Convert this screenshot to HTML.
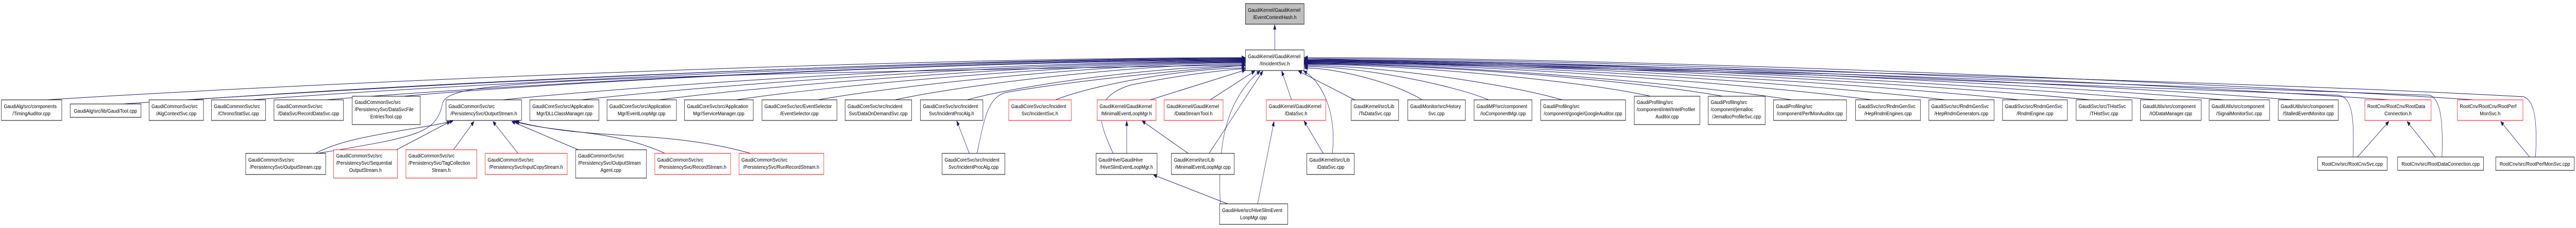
<!DOCTYPE html>
<html><head><meta charset="utf-8"><style>
html,body{margin:0;padding:0;background:#fff;width:100%;height:100%;overflow:hidden}
svg{display:block;width:100vw;height:100vh}
text{font-family:"Liberation Sans",Arial,sans-serif;font-size:10.5px;fill:#000}
.n{fill:#fff;stroke:#000;stroke-width:1}
.r{fill:#fff;stroke:#ff0000;stroke-width:1}
.e{fill:none;stroke:#191970;stroke-width:1}
</style></head><body>
<svg viewBox="0 0 7380 443" preserveAspectRatio="none" xmlns="http://www.w3.org/2000/svg">
<defs><marker id="a" viewBox="0 0 10 10" refX="10" refY="5" markerWidth="10" markerHeight="9" orient="auto" markerUnits="userSpaceOnUse"><path d="M0,1 L10,5 L0,9 z" fill="#191970" stroke="#191970"/></marker></defs>

<g class="edges">
<path class="e" marker-end="url(#a)" d="M3652,97 L3652,48"/>
<path class="e" marker-end="url(#a)" d="M134,194 C821,164 2538,112 3567,112"/>
<path class="e" marker-end="url(#a)" d="M353,202 C996,172 2604,113 3567,113"/>
<path class="e" marker-end="url(#a)" d="M544,194 C1149,164 2661,114 3567,114"/>
<path class="e" marker-end="url(#a)" d="M722,194 C1291,164 2714,115 3567,115"/>
<path class="e" marker-end="url(#a)" d="M934,194 C1461,164 2778,116 3567,116"/>
<path class="e" marker-end="url(#a)" d="M1155,187 C1638,157 2844,117 3567,117"/>
<path class="e" marker-end="url(#a)" d="M1440,194 C1866,164 2930,118 3567,118"/>
<path class="e" marker-end="url(#a)" d="M1666,194 C2046,164 2997,119 3567,119"/>
<path class="e" marker-end="url(#a)" d="M1888,194 C2224,164 3064,120 3567,120"/>
<path class="e" marker-end="url(#a)" d="M2109,194 C2401,164 3130,121 3567,121"/>
<path class="e" marker-end="url(#a)" d="M2344,194 C2589,164 3201,122 3567,122"/>
<path class="e" marker-end="url(#a)" d="M2564,194 C2765,164 3267,124 3567,124"/>
<path class="e" marker-end="url(#a)" d="M2771,194 C2930,164 3329,128 3567,128"/>
<path class="e" marker-end="url(#a)" d="M3024,194 C3133,164 3405,132 3567,132"/>
<path class="e" marker-end="url(#a)" d="M3295,194 L3568,136"/>
<path class="e" marker-end="url(#a)" d="M3467,194 L3595,138"/>
<path class="e" marker-end="url(#a)" d="M3700,194 L3672,138"/>
<path class="e" marker-end="url(#a)" d="M3881,194 L3720,138"/>
<path class="e" marker-end="url(#a)" d="M4074,194 C4006,164 3837,132 3737,132"/>
<path class="e" marker-end="url(#a)" d="M4265,194 C4159,164 3895,129 3737,129"/>
<path class="e" marker-end="url(#a)" d="M4475,194 C4327,164 3958,127 3737,127"/>
<path class="e" marker-end="url(#a)" d="M4729,187 C4530,157 4034,125 3737,125"/>
<path class="e" marker-end="url(#a)" d="M4935,187 C4695,157 4096,124 3737,124"/>
<path class="e" marker-end="url(#a)" d="M5133,194 C4854,164 4155,123 3737,123"/>
<path class="e" marker-end="url(#a)" d="M5363,194 C5038,164 4224,122 3737,122"/>
<path class="e" marker-end="url(#a)" d="M5573,194 C5206,164 4287,121 3737,121"/>
<path class="e" marker-end="url(#a)" d="M5784,194 C5374,164 4350,120 3737,120"/>
<path class="e" marker-end="url(#a)" d="M5988,194 C5538,164 4412,119 3737,119"/>
<path class="e" marker-end="url(#a)" d="M6176,194 C5688,164 4468,118 3737,118"/>
<path class="e" marker-end="url(#a)" d="M6372,194 C5845,164 4527,117 3737,117"/>
<path class="e" marker-end="url(#a)" d="M6570,194 C6003,164 4586,116 3737,116"/>
<path class="e" marker-end="url(#a)" d="M6844,194 C6222,164 4668,114 3737,114"/>
<path class="e" marker-end="url(#a)" d="M7087,194 C6417,164 4741,112 3737,112"/>

<path class="e" marker-end="url(#a)" d="M904,298 C1000,262 1200,252 1298,235"/>
<path class="e" marker-end="url(#a)" d="M910,298 C1200,265 1250,260 1268,200 C1290,160 1500,150 3567,126"/>
<path class="e" marker-end="url(#a)" d="M1136,291 L1290,236"/>
<path class="e" marker-end="url(#a)" d="M1300,290 L1358,236"/>
<path class="e" marker-end="url(#a)" d="M1484,298 L1412,236"/>
<path class="e" marker-end="url(#a)" d="M1657,291 L1466,236"/>
<path class="e" marker-end="url(#a)" d="M1905,298 C1750,250 1600,260 1474,236"/>
<path class="e" marker-end="url(#a)" d="M2150,298 C1900,250 1700,275 1478,236"/>
<path class="e" marker-end="url(#a)" d="M2777,298 L2741,235"/>
<path class="e" marker-end="url(#a)" d="M2799,298 C2820,230 2830,190 2880,180 C3000,165 3300,140 3567,127"/>
<path class="e" marker-end="url(#a)" d="M3228,298 L3228,235"/>
<path class="e" marker-end="url(#a)" d="M3189,298 C3150,240 3120,190 3240,165 C3350,150 3450,140 3567,133"/>
<path class="e" marker-end="url(#a)" d="M3404,298 L3272,235"/>
<path class="e" marker-end="url(#a)" d="M3464,298 L3618,138"/>
<path class="e" marker-end="url(#a)" d="M3791,298 L3736,235"/>
<path class="e" marker-end="url(#a)" d="M3817,298 C3830,220 3790,160 3735,138"/>
<path class="e" marker-end="url(#a)" d="M3517,396 L3305,340"/>
<path class="e" marker-end="url(#a)" d="M3496,396 C3490,300 3500,200 3610,138"/>
<path class="e" marker-end="url(#a)" d="M3603,396 L3650,236"/>
<path class="e" marker-end="url(#a)" d="M6754,305 L6844,236"/>
<path class="e" marker-end="url(#a)" d="M6741,305 C6745,230 6740,190 6700,185 C6000,160 4500,130 3737,118"/>
<path class="e" marker-end="url(#a)" d="M6977,305 L6896,236"/>
<path class="e" marker-end="url(#a)" d="M6996,305 C7000,230 6990,190 6960,185 C6200,160 4600,130 3737,116"/>
<path class="e" marker-end="url(#a)" d="M7247,305 L7164,236"/>
<path class="e" marker-end="url(#a)" d="M7264,305 C7270,230 7260,195 7230,188 C6500,160 4800,130 3737,114"/>
</g>

<rect x="3568" y="7" width="168" height="40" fill="#bfbfbf" stroke="#000"/>
<text transform="translate(3575,23) scale(1.26,1)">GaudiKernel/GaudiKernel</text>
<text transform="translate(3652,37) scale(1.26,1)" text-anchor="middle">/EventContextHash.h</text>
<rect class="n" x="3568" y="97" width="168" height="40"/>
<text transform="translate(3575,113) scale(1.26,1)">GaudiKernel/GaudiKernel</text>
<text transform="translate(3652,127) scale(1.26,1)" text-anchor="middle">/IIncidentSvc.h</text>

<rect class="n" x="4" y="194" width="173" height="40"/><text transform="translate(11,210) scale(1.26,1)">GaudiAlg/src/components</text><text transform="translate(90,224) scale(1.26,1)" text-anchor="middle">/TimingAuditor.cpp</text>
<rect class="n" x="201" y="202" width="203" height="26"/><text transform="translate(302,219) scale(1.26,1)" text-anchor="middle">GaudiAlg/src/lib/GaudiTool.cpp</text>
<rect class="n" x="427" y="194" width="156" height="40"/><text transform="translate(434,210) scale(1.26,1)">GaudiCommonSvc/src</text><text transform="translate(505,224) scale(1.26,1)" text-anchor="middle">/AlgContextSvc.cpp</text>
<rect class="n" x="606" y="194" width="155" height="40"/><text transform="translate(613,210) scale(1.26,1)">GaudiCommonSvc/src</text><text transform="translate(683,224) scale(1.26,1)" text-anchor="middle">/ChronoStatSvc.cpp</text>
<rect class="n" x="785" y="194" width="199" height="40"/><text transform="translate(792,210) scale(1.26,1)">GaudiCommonSvc/src</text><text transform="translate(884,224) scale(1.26,1)" text-anchor="middle">/DataSvc/RecordDataSvc.cpp</text>
<rect class="n" x="1009" y="187" width="195" height="55"/><text transform="translate(1016,202) scale(1.26,1)">GaudiCommonSvc/src</text><text transform="translate(1016,216) scale(1.26,1)">/PersistencySvc/DataSvcFile</text><text transform="translate(1106,230) scale(1.26,1)" text-anchor="middle">EntriesTool.cpp</text>
<rect class="n" x="1278" y="194" width="216" height="40"/><text transform="translate(1285,210) scale(1.26,1)">GaudiCommonSvc/src</text><text transform="translate(1386,224) scale(1.26,1)" text-anchor="middle">/PersistencySvc/OutputStream.h</text>
<rect class="n" x="1518" y="194" width="198" height="40"/><text transform="translate(1525,210) scale(1.26,1)">GaudiCoreSvc/src/Application</text><text transform="translate(1617,224) scale(1.26,1)" text-anchor="middle">Mgr/DLLClassManager.cpp</text>
<rect class="n" x="1739" y="194" width="199" height="40"/><text transform="translate(1746,210) scale(1.26,1)">GaudiCoreSvc/src/Application</text><text transform="translate(1838,224) scale(1.26,1)" text-anchor="middle">Mgr/EventLoopMgr.cpp</text>
<rect class="n" x="1961" y="194" width="197" height="40"/><text transform="translate(1968,210) scale(1.26,1)">GaudiCoreSvc/src/Application</text><text transform="translate(2059,224) scale(1.26,1)" text-anchor="middle">Mgr/ServiceManager.cpp</text>
<rect class="n" x="2183" y="194" width="215" height="40"/><text transform="translate(2190,210) scale(1.26,1)">GaudiCoreSvc/src/EventSelector</text><text transform="translate(2290,224) scale(1.26,1)" text-anchor="middle">/EventSelector.cpp</text>
<rect class="n" x="2421" y="194" width="191" height="40"/><text transform="translate(2428,210) scale(1.26,1)">GaudiCoreSvc/src/Incident</text><text transform="translate(2516,224) scale(1.26,1)" text-anchor="middle">Svc/DataOnDemandSvc.cpp</text>
<rect class="n" x="2637" y="194" width="179" height="40"/><text transform="translate(2644,210) scale(1.26,1)">GaudiCoreSvc/src/Incident</text><text transform="translate(2726,224) scale(1.26,1)" text-anchor="middle">Svc/IncidentProcAlg.h</text>
<rect class="r" x="2890" y="194" width="179" height="40"/><text transform="translate(2897,210) scale(1.26,1)">GaudiCoreSvc/src/Incident</text><text transform="translate(2979,224) scale(1.26,1)" text-anchor="middle">Svc/IncidentSvc.h</text>
<rect class="r" x="3143" y="194" width="169" height="40"/><text transform="translate(3150,210) scale(1.26,1)">GaudiKernel/GaudiKernel</text><text transform="translate(3227,224) scale(1.26,1)" text-anchor="middle">/MinimalEventLoopMgr.h</text>
<rect class="r" x="3335" y="194" width="169" height="40"/><text transform="translate(3342,210) scale(1.26,1)">GaudiKernel/GaudiKernel</text><text transform="translate(3419,224) scale(1.26,1)" text-anchor="middle">/DataStreamTool.h</text>
<rect class="r" x="3628" y="194" width="170" height="40"/><text transform="translate(3635,210) scale(1.26,1)">GaudiKernel/GaudiKernel</text><text transform="translate(3713,224) scale(1.26,1)" text-anchor="middle">/DataSvc.h</text>
<rect class="n" x="3871" y="194" width="136" height="40"/><text transform="translate(3878,210) scale(1.26,1)">GaudiKernel/src/Lib</text><text transform="translate(3939,224) scale(1.26,1)" text-anchor="middle">/TsDataSvc.cpp</text>
<rect class="n" x="4033" y="194" width="165" height="40"/><text transform="translate(4040,210) scale(1.26,1)">GaudiMonitor/src/History</text><text transform="translate(4115,224) scale(1.26,1)" text-anchor="middle">Svc.cpp</text>
<rect class="n" x="4223" y="194" width="166" height="40"/><text transform="translate(4230,210) scale(1.26,1)">GaudiMP/src/component</text><text transform="translate(4306,224) scale(1.26,1)" text-anchor="middle">/IoComponentMgr.cpp</text>
<rect class="n" x="4414" y="194" width="243" height="40"/><text transform="translate(4421,210) scale(1.26,1)">GaudiProfiling/src</text><text transform="translate(4535,224) scale(1.26,1)" text-anchor="middle">/component/google/GoogleAuditor.cpp</text>
<rect class="n" x="4682" y="187" width="188" height="55"/><text transform="translate(4689,202) scale(1.26,1)">GaudiProfiling/src</text><text transform="translate(4689,216) scale(1.26,1)">/component/intel/IntelProfiler</text><text transform="translate(4776,230) scale(1.26,1)" text-anchor="middle">Auditor.cpp</text>
<rect class="n" x="4894" y="187" width="163" height="55"/><text transform="translate(4901,202) scale(1.26,1)">GaudiProfiling/src</text><text transform="translate(4901,216) scale(1.26,1)">/component/jemalloc</text><text transform="translate(4975,230) scale(1.26,1)" text-anchor="middle">/JemallocProfileSvc.cpp</text>
<rect class="n" x="5081" y="194" width="209" height="40"/><text transform="translate(5088,210) scale(1.26,1)">GaudiProfiling/src</text><text transform="translate(5185,224) scale(1.26,1)" text-anchor="middle">/component/PerfMonAuditor.cpp</text>
<rect class="n" x="5316" y="194" width="186" height="40"/><text transform="translate(5323,210) scale(1.26,1)">GaudiSvc/src/RndmGenSvc</text><text transform="translate(5409,224) scale(1.26,1)" text-anchor="middle">/HepRndmEngines.cpp</text>
<rect class="n" x="5526" y="194" width="187" height="40"/><text transform="translate(5533,210) scale(1.26,1)">GaudiSvc/src/RndmGenSvc</text><text transform="translate(5619,224) scale(1.26,1)" text-anchor="middle">/HepRndmGenerators.cpp</text>
<rect class="n" x="5737" y="194" width="186" height="40"/><text transform="translate(5744,210) scale(1.26,1)">GaudiSvc/src/RndmGenSvc</text><text transform="translate(5830,224) scale(1.26,1)" text-anchor="middle">/RndmEngine.cpp</text>
<rect class="n" x="5948" y="194" width="160" height="40"/><text transform="translate(5955,210) scale(1.26,1)">GaudiSvc/src/THistSvc</text><text transform="translate(6028,224) scale(1.26,1)" text-anchor="middle">/THistSvc.cpp</text>
<rect class="n" x="6132" y="194" width="174" height="40"/><text transform="translate(6139,210) scale(1.26,1)">GaudiUtils/src/component</text><text transform="translate(6219,224) scale(1.26,1)" text-anchor="middle">/IODataManager.cpp</text>
<rect class="n" x="6329" y="194" width="173" height="40"/><text transform="translate(6336,210) scale(1.26,1)">GaudiUtils/src/component</text><text transform="translate(6415,224) scale(1.26,1)" text-anchor="middle">/SignalMonitorSvc.cpp</text>
<rect class="n" x="6527" y="194" width="172" height="40"/><text transform="translate(6534,210) scale(1.26,1)">GaudiUtils/src/component</text><text transform="translate(6613,224) scale(1.26,1)" text-anchor="middle">/StalledEventMonitor.cpp</text>
<rect class="r" x="6775" y="194" width="190" height="40"/><text transform="translate(6782,210) scale(1.26,1)">RootCnv/RootCnv/RootData</text><text transform="translate(6870,224) scale(1.26,1)" text-anchor="middle">Connection.h</text>
<rect class="r" x="7040" y="194" width="188" height="40"/><text transform="translate(7047,210) scale(1.26,1)">RootCnv/RootCnv/RootPerf</text><text transform="translate(7134,224) scale(1.26,1)" text-anchor="middle">MonSvc.h</text>

<rect class="n" x="704" y="298" width="229" height="41"/><text transform="translate(711,314) scale(1.26,1)">GaudiCommonSvc/src</text><text transform="translate(818,328) scale(1.26,1)" text-anchor="middle">/PersistencySvc/OutputStream.cpp</text>
<rect class="r" x="956" y="291" width="183" height="55"/><text transform="translate(963,306) scale(1.26,1)">GaudiCommonSvc/src</text><text transform="translate(963,320) scale(1.26,1)">/PersistencySvc/Sequential</text><text transform="translate(1047,334) scale(1.26,1)" text-anchor="middle">OutputStream.h</text>
<rect class="r" x="1163" y="291" width="203" height="55"/><text transform="translate(1170,306) scale(1.26,1)">GaudiCommonSvc/src</text><text transform="translate(1170,320) scale(1.26,1)">/PersistencySvc/TagCollection</text><text transform="translate(1264,334) scale(1.26,1)" text-anchor="middle">Stream.h</text>
<rect class="r" x="1390" y="298" width="235" height="41"/><text transform="translate(1397,314) scale(1.26,1)">GaudiCommonSvc/src</text><text transform="translate(1507,328) scale(1.26,1)" text-anchor="middle">/PersistencySvc/InputCopyStream.h</text>
<rect class="n" x="1649" y="291" width="203" height="55"/><text transform="translate(1656,306) scale(1.26,1)">GaudiCommonSvc/src</text><text transform="translate(1656,320) scale(1.26,1)">/PersistencySvc/OutputStream</text><text transform="translate(1750,334) scale(1.26,1)" text-anchor="middle">Agent.cpp</text>
<rect class="r" x="1876" y="298" width="217" height="41"/><text transform="translate(1883,314) scale(1.26,1)">GaudiCommonSvc/src</text><text transform="translate(1984,328) scale(1.26,1)" text-anchor="middle">/PersistencySvc/RecordStream.h</text>
<rect class="r" x="2117" y="298" width="243" height="41"/><text transform="translate(2124,314) scale(1.26,1)">GaudiCommonSvc/src</text><text transform="translate(2238,328) scale(1.26,1)" text-anchor="middle">/PersistencySvc/RunRecordStream.h</text>
<rect class="n" x="2699" y="298" width="180" height="41"/><text transform="translate(2706,314) scale(1.26,1)">GaudiCoreSvc/src/Incident</text><text transform="translate(2789,328) scale(1.26,1)" text-anchor="middle">Svc/IncidentProcAlg.cpp</text>
<rect class="n" x="3140" y="298" width="175" height="41"/><text transform="translate(3147,314) scale(1.26,1)">GaudiHive/GaudiHive</text><text transform="translate(3227,328) scale(1.26,1)" text-anchor="middle">/HiveSlimEventLoopMgr.h</text>
<rect class="n" x="3356" y="298" width="180" height="41"/><text transform="translate(3363,314) scale(1.26,1)">GaudiKernel/src/Lib</text><text transform="translate(3446,328) scale(1.26,1)" text-anchor="middle">/MinimalEventLoopMgr.cpp</text>
<rect class="n" x="3744" y="298" width="136" height="41"/><text transform="translate(3751,314) scale(1.26,1)">GaudiKernel/src/Lib</text><text transform="translate(3812,328) scale(1.26,1)" text-anchor="middle">/DataSvc.cpp</text>
<rect class="n" x="6640" y="305" width="199" height="26"/><text transform="translate(6739,322) scale(1.26,1)" text-anchor="middle">RootCnv/src/RootCnvSvc.cpp</text>
<rect class="n" x="6869" y="305" width="246" height="26"/><text transform="translate(6992,322) scale(1.26,1)" text-anchor="middle">RootCnv/src/RootDataConnection.cpp</text>
<rect class="n" x="7150" y="305" width="225" height="26"/><text transform="translate(7262,322) scale(1.26,1)" text-anchor="middle">RootCnv/src/RootPerfMonSvc.cpp</text>

<rect class="n" x="3494" y="396" width="195" height="40"/><text transform="translate(3501,412) scale(1.26,1)">GaudiHive/src/HiveSlimEvent</text><text transform="translate(3591,426) scale(1.26,1)" text-anchor="middle">LoopMgr.cpp</text>
</svg>
</body></html>
